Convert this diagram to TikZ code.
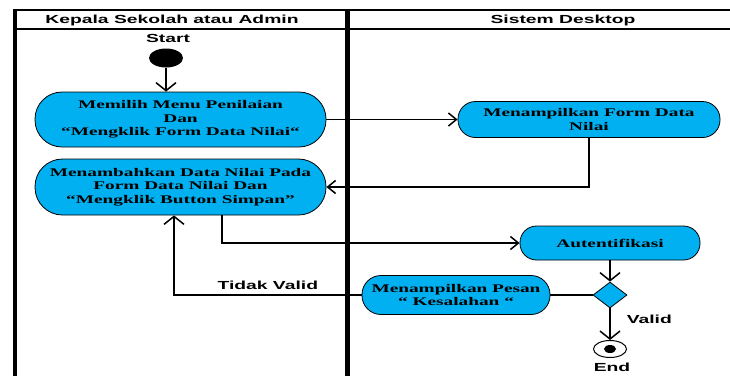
\documentclass[tikz,border=0pt]{standalone}
\usepackage{fontspec}
\setmainfont{Liberation Serif}[FakeStretch=1.65]
\setsansfont{Liberation Sans}[FakeStretch=1.65]
\usetikzlibrary{arrows.meta,shapes.geometric,calc}
\definecolor{actblue}{RGB}{0,176,240}
\tikzset{
  act/.style={rectangle, draw, fill=actblue, line width=0.8pt, align=center,
    inner sep=0pt, font=\bfseries\fontsize{11.7}{13.6}\selectfont},
  lbl/.style={inner sep=1pt, font=\sffamily\bfseries\fontsize{11.7}{14}\selectfont},
  startdot/.style={ellipse, fill=black, minimum width=34pt, minimum height=19pt, inner sep=0pt},
  flow/.style={line width=1.5pt, -{Straight Barb[length=8pt,width=#1]}},
  flow/.default=13pt
}
\begin{document}
\begin{tikzpicture}[x=1pt,y=-1pt]
\useasboundingbox (0,0) rectangle (730,376);
\draw[line width=1.4pt] (13,10) -- (730,10);
\draw[line width=1.4pt] (13,29) -- (730,29);
\draw[line width=4pt] (14.5,10) -- (14.5,376);
\draw[line width=5pt] (347,10) -- (347,376);
\node[lbl] (admin) at (172,20) {Kepala Sekolah atau Admin};
\node[lbl] (sistem) at (563,20) {Sistem Desktop};
\node[lbl] (startlbl) at (168,38.5) {Start};
\node[startdot] (start) at (166,58) {};
\node[act, minimum width=291pt, minimum height=55pt, rounded corners=27pt] (menu) at (180.5,119.5)
  {Memilih Menu Penilaian\\Dan\\“Mengklik Form Data Nilai“};
\node[act, minimum width=262pt, minimum height=36pt, rounded corners=17.5pt] (form) at (589,119.5)
  {Menampilkan Form Data\\Nilai};
\node[act, minimum width=291pt, minimum height=56pt, rounded corners=27.5pt] (tambah) at (180.5,187)
  {Menambahkan Data Nilai Pada\\Form Data Nilai Dan\\“Mengklik Button Simpan”};
\node[act, minimum width=180pt, minimum height=34pt, rounded corners=16.5pt] (auth) at (610,243)
  {Autentifikasi};
\node[diamond, draw, fill=actblue, line width=0.8pt, minimum width=34pt, minimum height=26pt, inner sep=0pt] (cek) at (610,295) {};
\node[act, minimum width=188pt, minimum height=39pt, rounded corners=19pt] (pesan) at (456,295)
  {Menampilkan Pesan\\“ Kesalahan “};
\node[ellipse, draw, line width=1pt, minimum width=33pt, minimum height=17pt, inner sep=0pt] (end) at (610,349) {};
\fill (end.center) ellipse (6 and 4);
\node[lbl] (endlbl) at (612,367.5) {End};
\draw[flow=20pt] (start) -- (start |- menu.north);
\draw[flow] (menu.east) -- (form.west);
\draw[flow] (form.south) |- (tambah.east);
\draw[flow] ($(tambah.south)+(41.5,0)$) |- (auth.west);
\draw[flow=20pt] (auth) -- (cek);
\draw[line width=1.5pt] (cek) -- (pesan);
\draw[flow=20pt] (pesan.west) -| ($(tambah.south)+(-6.5,0)$)
  node[lbl, pos=0.25, above=4pt] {Tidak Valid};
\draw[flow=20pt] (cek) -- (end) node[lbl, pos=0.35, right=15pt] {Valid};
\end{tikzpicture}
\end{document}
